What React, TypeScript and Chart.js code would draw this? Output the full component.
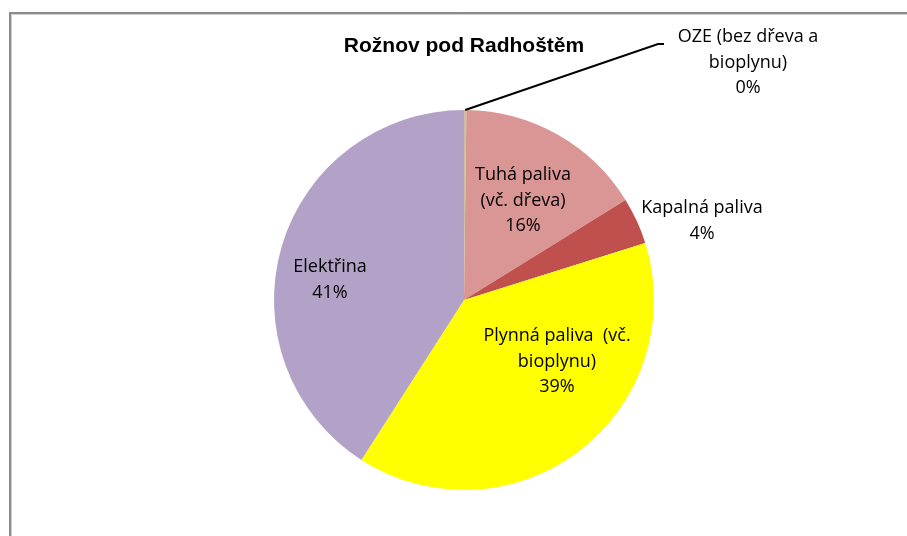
import React, { useEffect, useRef } from "react";
import { Chart, registerables } from "chart.js";

Chart.register(...registerables);

const categories = [
  "OZE (bez dřeva a bioplynu)",
  "Tuhá paliva (vč. dřeva)",
  "Kapalná paliva",
  "Plynná paliva (vč. bioplynu)",
  "Elektřina",
];
const values = [0.2, 16, 4, 39, 41];
const labelLines = [
  ["OZE (bez dřeva a", "bioplynu)", "0%"],
  ["Tuhá paliva", "(vč. dřeva)", "16%"],
  ["Kapalná paliva", "4%"],
  ["Plynná paliva  (vč.", "bioplynu)", "39%"],
  ["Elektřina", "41%"],
];
const colors = ["#C9C39B", "#D99694", "#C0504D", "#FFFF00", "#B3A2C7"];
const title = "Rožnov pod Radhoštěm";

const labelPos = [
  { x: 748, y: 37 },
  { x: 523, y: 175 },
  { x: 702, y: 208 },
  { x: 557, y: 336 },
  { x: 330, y: 267 },
];

export default function App() {
  const ref = useRef<HTMLCanvasElement>(null);
  useEffect(() => {
    document.body.style.margin = "0";
    const canvas = ref.current!;
    const overlay = {
      id: "overlay",
      beforeDraw(chart: any) {
        const ctx = chart.ctx;
        ctx.save();
        ctx.fillStyle = "#ffffff";
        ctx.fillRect(0, 0, chart.width, chart.height);
        ctx.strokeStyle = "#8a8a8a";
        ctx.lineWidth = 2;
        ctx.beginPath();
        ctx.moveTo(10, 600);
        ctx.lineTo(10, 13);
        ctx.lineTo(1000, 13);
        ctx.stroke();
        ctx.strokeStyle = "#d0d0d0";
        ctx.lineWidth = 1;
        ctx.beginPath();
        ctx.moveTo(11.5, 600);
        ctx.lineTo(11.5, 14.5);
        ctx.lineTo(1000, 14.5);
        ctx.stroke();
        ctx.restore();
      },
      afterDraw(chart: any) {
        const ctx = chart.ctx;
        ctx.save();
        ctx.fillStyle = "#000";
        ctx.font = "bold 21px 'Liberation Sans', Arial, sans-serif";
        ctx.textAlign = "center";
        ctx.textBaseline = "middle";
        ctx.fillText(title, 464, 46);

        const arc = chart.getDatasetMeta(0).data[0];
        const mid = (arc.startAngle + arc.endAngle) / 2;
        const sx = arc.x + Math.cos(mid) * arc.outerRadius;
        const sy = arc.y + Math.sin(mid) * arc.outerRadius;
        ctx.strokeStyle = "#000";
        ctx.lineWidth = 2;
        ctx.beginPath();
        ctx.moveTo(sx, sy);
        ctx.lineTo(658, 44);
        ctx.lineTo(664, 44);
        ctx.stroke();

        ctx.font = "18px 'Open Sans', sans-serif";
        labelLines.forEach((lines, i) => {
          const p = labelPos[i];
          lines.forEach((t, j) => {
            ctx.fillText(t, p.x, p.y + j * 25.5);
          });
        });
        ctx.restore();
      },
    };
    const chart = new Chart(canvas, {
      type: "pie",
      data: {
        labels: categories,
        datasets: [
          {
            data: values,
            backgroundColor: colors,
            borderWidth: 0,
          },
        ],
      },
      options: {
        responsive: false,
        animation: false,
        layout: { padding: { left: 274, right: 253, top: 110, bottom: 46 } },
        plugins: {
          legend: { display: false },
          tooltip: { enabled: false },
          title: { display: false },
        },
      },
      plugins: [overlay],
    });
    return () => chart.destroy();
  }, []);
  return <canvas ref={ref} width={907} height={536} style={{ display: "block" }} />;
}
